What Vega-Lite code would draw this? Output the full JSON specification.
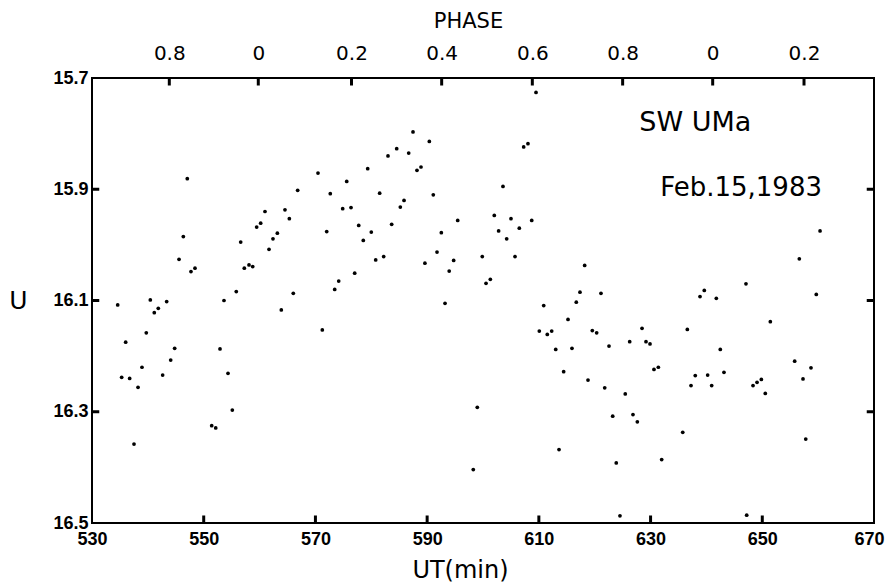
{
  "$schema": "https://vega.github.io/schema/vega-lite/v6.json",
  "width": 782,
  "height": 445,
  "autosize": {"type": "none"},
  "padding": {"left": 92, "top": 78, "right": 11, "bottom": 63},
  "background": "white",
  "config": {
    "view": {"stroke": "black", "strokeWidth": 2},
    "axis": {
      "grid": false,
      "domain": false,
      "ticks": false,
      "labelColor": "black",
      "titleColor": "black",
      "labelFlush": false,
      "labelOverlap": false
    }
  },
  "datasets": {
    "xticks": [{"pos": 550}, {"pos": 570}, {"pos": 590}, {"pos": 610}, {"pos": 630}, {"pos": 650}],
    "phaseticks": [{"pos": 543.84}, {"pos": 559.77}, {"pos": 576.46}, {"pos": 592.6}, {"pos": 608.83}, {"pos": 625.0}, {"pos": 641.12}, {"pos": 657.47}],
    "yticks": [{"pos": 15.9}, {"pos": 16.1}, {"pos": 16.3}],
    "obs": [
      {"ut": 534.6, "U": 16.108}, {"ut": 535.31, "U": 16.238}, {"ut": 536.03, "U": 16.175}, {"ut": 536.74, "U": 16.24},
      {"ut": 537.52, "U": 16.358}, {"ut": 538.24, "U": 16.256}, {"ut": 538.95, "U": 16.22}, {"ut": 539.72, "U": 16.158},
      {"ut": 540.44, "U": 16.099}, {"ut": 541.15, "U": 16.122}, {"ut": 541.87, "U": 16.114}, {"ut": 542.65, "U": 16.234},
      {"ut": 543.37, "U": 16.102}, {"ut": 544.09, "U": 16.207}, {"ut": 544.8, "U": 16.186}, {"ut": 545.58, "U": 16.026},
      {"ut": 546.35, "U": 15.985}, {"ut": 547.06, "U": 15.881}, {"ut": 547.72, "U": 16.048}, {"ut": 548.44, "U": 16.042},
      {"ut": 551.43, "U": 16.325}, {"ut": 552.15, "U": 16.329}, {"ut": 552.92, "U": 16.187}, {"ut": 553.63, "U": 16.1},
      {"ut": 554.35, "U": 16.231}, {"ut": 555.12, "U": 16.297}, {"ut": 555.83, "U": 16.084}, {"ut": 556.62, "U": 15.995},
      {"ut": 557.27, "U": 16.042}, {"ut": 558.11, "U": 16.036}, {"ut": 558.77, "U": 16.039}, {"ut": 559.48, "U": 15.968},
      {"ut": 560.2, "U": 15.961}, {"ut": 560.97, "U": 15.94}, {"ut": 561.69, "U": 16.008}, {"ut": 562.4, "U": 15.989},
      {"ut": 563.18, "U": 15.979}, {"ut": 563.89, "U": 16.117}, {"ut": 564.55, "U": 15.937}, {"ut": 565.33, "U": 15.953},
      {"ut": 566.04, "U": 16.087}, {"ut": 566.82, "U": 15.902}, {"ut": 570.46, "U": 15.871}, {"ut": 571.23, "U": 16.153},
      {"ut": 572.02, "U": 15.976}, {"ut": 572.66, "U": 15.908}, {"ut": 573.45, "U": 16.08}, {"ut": 574.17, "U": 16.065},
      {"ut": 574.88, "U": 15.935}, {"ut": 575.6, "U": 15.886}, {"ut": 576.37, "U": 15.933}, {"ut": 577.03, "U": 16.051},
      {"ut": 577.75, "U": 15.965}, {"ut": 578.57, "U": 15.992}, {"ut": 579.36, "U": 15.863}, {"ut": 580.0, "U": 15.977},
      {"ut": 580.79, "U": 16.027}, {"ut": 581.5, "U": 15.907}, {"ut": 582.22, "U": 16.021}, {"ut": 582.99, "U": 15.84},
      {"ut": 583.65, "U": 15.963}, {"ut": 584.55, "U": 15.827}, {"ut": 585.2, "U": 15.932}, {"ut": 585.86, "U": 15.92},
      {"ut": 586.7, "U": 15.835}, {"ut": 587.47, "U": 15.797}, {"ut": 588.18, "U": 15.866}, {"ut": 588.9, "U": 15.86},
      {"ut": 589.6, "U": 16.033}, {"ut": 590.39, "U": 15.814}, {"ut": 591.1, "U": 15.91}, {"ut": 591.77, "U": 16.013},
      {"ut": 592.54, "U": 15.978}, {"ut": 593.2, "U": 16.105}, {"ut": 593.95, "U": 16.047}, {"ut": 594.75, "U": 16.028},
      {"ut": 595.47, "U": 15.956}, {"ut": 598.26, "U": 16.404}, {"ut": 598.98, "U": 16.292}, {"ut": 599.87, "U": 16.021},
      {"ut": 600.54, "U": 16.069}, {"ut": 601.31, "U": 16.062}, {"ut": 602.02, "U": 15.947}, {"ut": 602.8, "U": 15.975},
      {"ut": 603.58, "U": 15.895}, {"ut": 604.24, "U": 15.989}, {"ut": 605.01, "U": 15.953}, {"ut": 605.73, "U": 16.021},
      {"ut": 606.5, "U": 15.97}, {"ut": 607.28, "U": 15.824}, {"ut": 608.05, "U": 15.818}, {"ut": 608.72, "U": 15.956},
      {"ut": 609.49, "U": 15.726}, {"ut": 610.08, "U": 16.155}, {"ut": 610.87, "U": 16.109}, {"ut": 611.51, "U": 16.161},
      {"ut": 612.3, "U": 16.155}, {"ut": 613.02, "U": 16.188}, {"ut": 613.61, "U": 16.368}, {"ut": 614.44, "U": 16.228},
      {"ut": 615.22, "U": 16.134}, {"ut": 615.93, "U": 16.186}, {"ut": 616.7, "U": 16.103}, {"ut": 617.36, "U": 16.085},
      {"ut": 618.2, "U": 16.037}, {"ut": 618.8, "U": 16.243}, {"ut": 619.57, "U": 16.154}, {"ut": 620.35, "U": 16.158},
      {"ut": 621.12, "U": 16.087}, {"ut": 621.79, "U": 16.257}, {"ut": 622.56, "U": 16.182}, {"ut": 623.22, "U": 16.308},
      {"ut": 623.86, "U": 16.392}, {"ut": 624.52, "U": 16.487}, {"ut": 625.47, "U": 16.268}, {"ut": 626.26, "U": 16.174},
      {"ut": 626.85, "U": 16.305}, {"ut": 627.63, "U": 16.318}, {"ut": 628.47, "U": 16.15}, {"ut": 629.18, "U": 16.174},
      {"ut": 629.9, "U": 16.178}, {"ut": 630.61, "U": 16.224}, {"ut": 631.39, "U": 16.22}, {"ut": 631.99, "U": 16.386},
      {"ut": 635.76, "U": 16.337}, {"ut": 636.58, "U": 16.152}, {"ut": 637.24, "U": 16.253}, {"ut": 638.0, "U": 16.235},
      {"ut": 638.85, "U": 16.093}, {"ut": 639.62, "U": 16.082}, {"ut": 640.22, "U": 16.234}, {"ut": 640.94, "U": 16.253},
      {"ut": 641.77, "U": 16.096}, {"ut": 642.48, "U": 16.188}, {"ut": 643.14, "U": 16.229}, {"ut": 647.08, "U": 16.07},
      {"ut": 647.21, "U": 16.486}, {"ut": 648.34, "U": 16.253}, {"ut": 649.06, "U": 16.247}, {"ut": 649.83, "U": 16.242},
      {"ut": 650.54, "U": 16.267}, {"ut": 651.44, "U": 16.138}, {"ut": 655.8, "U": 16.209}, {"ut": 656.63, "U": 16.025},
      {"ut": 657.29, "U": 16.241}, {"ut": 657.78, "U": 16.349}, {"ut": 658.72, "U": 16.221}, {"ut": 659.67, "U": 16.089},
      {"ut": 660.34, "U": 15.975}
    ]
  },
  "layer": [
    {
      "data": {"name": "obs"},
      "mark": {"type": "circle", "size": 14, "color": "black", "opacity": 1},
      "encoding": {
        "x": {
          "field": "ut", "type": "quantitative",
          "scale": {"domain": [530, 670], "nice": false, "zero": false},
          "axis": {
            "orient": "bottom",
            "values": [530, 550, 570, 590, 610, 630, 650, 670],
            "title": "UT(min)",
            "labelFont": "Liberation Sans", "labelFontWeight": "bold", "labelFontSize": 18, "labelPadding": 7,
            "labelOffset": {"expr": "datum.value == 670 ? -5 : 0"},
            "titleFont": "DejaVu Sans", "titleFontSize": 24, "titleFontWeight": "normal",
            "titleX": 368, "titleY": 47, "titleBaseline": "middle", "titleAlign": "center"
          }
        },
        "y": {
          "field": "U", "type": "quantitative",
          "scale": {"domain": [15.7, 16.5], "reverse": true, "nice": false, "zero": false},
          "axis": {
            "orient": "left",
            "values": [15.7, 15.9, 16.1, 16.3, 16.5],
            "format": ".1f",
            "title": "U",
            "labelFont": "Liberation Sans", "labelFontWeight": "bold", "labelFontSize": 18, "labelPadding": 4,
            "titleFont": "DejaVu Sans", "titleFontSize": 25, "titleFontWeight": "normal", "titleAngle": 0,
            "titleX": -74, "titleY": 222, "titleAlign": "center", "titleBaseline": "middle"
          }
        }
      }
    },
    {
      "data": {"values": [{}]},
      "mark": {"type": "text", "text": "SW UMa", "font": "DejaVu Sans", "fontSize": 27, "align": "center", "baseline": "middle", "color": "black"},
      "encoding": {
        "x": {
          "datum": 638, "type": "quantitative",
          "scale": {"domain": [530, 670], "nice": false, "zero": false},
          "axis": {
            "orient": "top",
            "values": [543.84, 559.77, 576.46, 592.6, 608.83, 625.0, 641.12, 657.47],
            "labelExpr": "['0.8','0','0.2','0.4','0.6','0.8','0','0.2'][indexof([543.84, 559.77, 576.46, 592.6, 608.83, 625.0, 641.12, 657.47], datum.value)]",
            "title": "PHASE",
            "labelFont": "DejaVu Sans", "labelFontSize": 20, "labelPadding": 15,
            "titleFont": "DejaVu Sans", "titleFontSize": 21, "titleFontWeight": "normal",
            "titleX": 376, "titleY": -57, "titleBaseline": "middle", "titleAlign": "center"
          }
        },
        "y": {
          "datum": 15.781, "type": "quantitative",
          "scale": {"domain": [15.7, 16.5], "reverse": true, "nice": false, "zero": false},
          "axis": null
        }
      }
    },
    {
      "data": {"values": [{}]},
      "mark": {"type": "text", "text": "Feb.15,1983", "font": "DejaVu Sans", "fontSize": 26, "align": "center", "baseline": "middle", "color": "black"},
      "encoding": {
        "x": {"datum": 646.2, "type": "quantitative", "scale": {"domain": [530, 670], "nice": false, "zero": false}, "axis": null},
        "y": {"datum": 15.898, "type": "quantitative", "scale": {"domain": [15.7, 16.5], "reverse": true, "nice": false, "zero": false}, "axis": null}
      }
    },
    {
      "data": {"name": "xticks"},
      "mark": {"type": "rule", "color": "black", "strokeWidth": 3},
      "encoding": {
        "x": {"field": "pos", "type": "quantitative", "scale": {"domain": [530, 670], "nice": false, "zero": false}, "axis": null},
        "y": {"datum": 16.5, "type": "quantitative", "scale": {"domain": [15.7, 16.5], "reverse": true, "nice": false, "zero": false}, "axis": null},
        "y2": {"datum": 16.4865}
      }
    },
    {
      "data": {"name": "phaseticks"},
      "mark": {"type": "rule", "color": "black", "strokeWidth": 3},
      "encoding": {
        "x": {"field": "pos", "type": "quantitative", "scale": {"domain": [530, 670], "nice": false, "zero": false}, "axis": null},
        "y": {"datum": 15.7, "type": "quantitative", "scale": {"domain": [15.7, 16.5], "reverse": true, "nice": false, "zero": false}, "axis": null},
        "y2": {"datum": 15.7135}
      }
    },
    {
      "data": {"name": "yticks"},
      "mark": {"type": "rule", "color": "black", "strokeWidth": 3},
      "encoding": {
        "y": {"field": "pos", "type": "quantitative", "scale": {"domain": [15.7, 16.5], "reverse": true, "nice": false, "zero": false}, "axis": null},
        "x": {"datum": 530, "type": "quantitative", "scale": {"domain": [530, 670], "nice": false, "zero": false}, "axis": null},
        "x2": {"datum": 531.3}
      }
    },
    {
      "data": {"name": "yticks"},
      "mark": {"type": "rule", "color": "black", "strokeWidth": 3},
      "encoding": {
        "y": {"field": "pos", "type": "quantitative", "scale": {"domain": [15.7, 16.5], "reverse": true, "nice": false, "zero": false}, "axis": null},
        "x": {"datum": 670, "type": "quantitative", "scale": {"domain": [530, 670], "nice": false, "zero": false}, "axis": null},
        "x2": {"datum": 668.7}
      }
    }
  ],
  "resolve": {"axis": {"x": "independent", "y": "independent"}}
}
